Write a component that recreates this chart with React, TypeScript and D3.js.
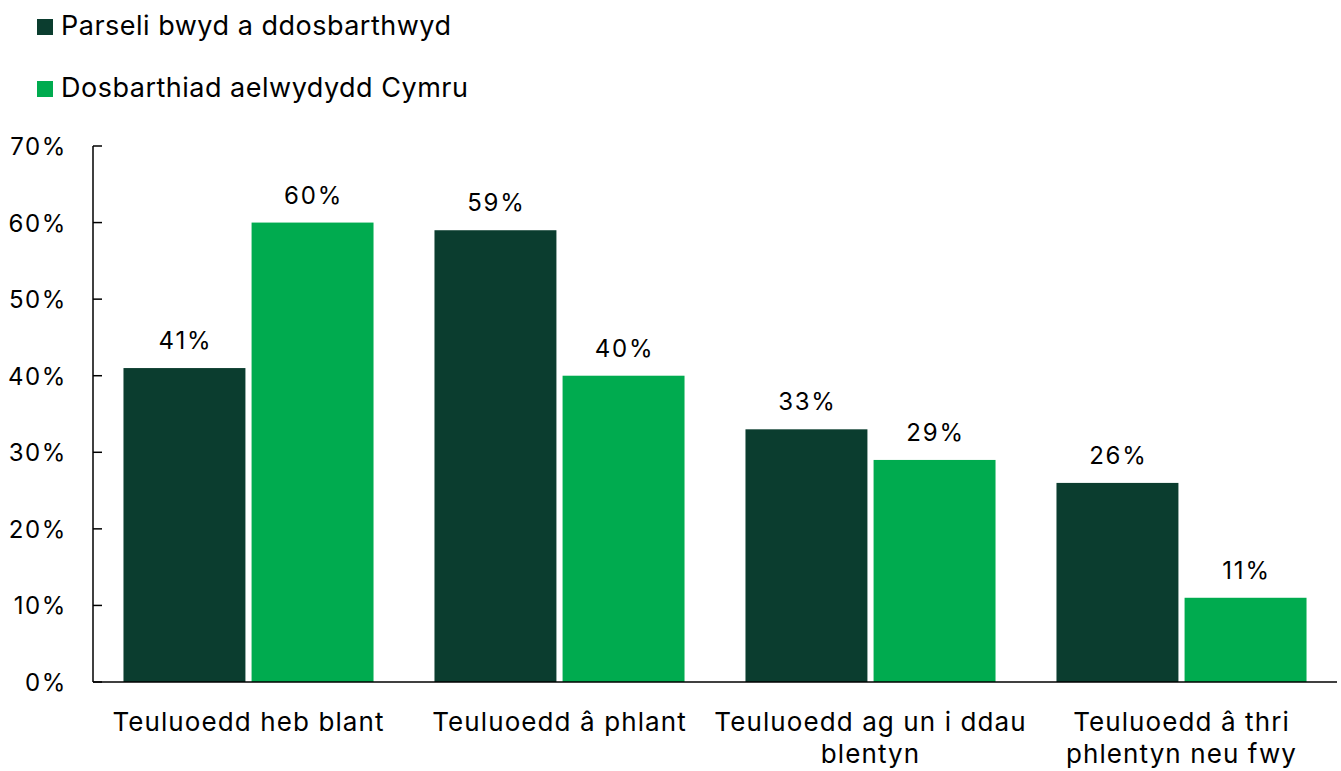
import { useEffect, useRef } from 'react';
import * as d3 from 'd3';

const categories = [
  ['Teuluoedd heb blant'],
  ['Teuluoedd â phlant'],
  ['Teuluoedd ag un i ddau', 'blentyn'],
  ['Teuluoedd â thri', 'phlentyn neu fwy'],
];
const seriesNames = ['Parseli bwyd a ddosbarthwyd', 'Dosbarthiad aelwydydd Cymru'];
const parcels = [41, 59, 33, 26];
const households = [60, 40, 29, 11];
const yTicks = [0, 10, 20, 30, 40, 50, 60, 70];
const colors = ['#0b3d2f', '#00ab4f'];

const App = () => {
  const ref = useRef<SVGSVGElement | null>(null);

  useEffect(() => {
    if (!ref.current) return;
    const svg = d3.select(ref.current);
    svg.selectAll('*').remove();

    const font = 'Inter, "Noto Sans", sans-serif';
    const left = 93, right = 1337, top = 146, bottom = 682;

    const x = d3.scaleBand<number>()
      .domain(d3.range(categories.length))
      .range([left, right])
      .paddingInner(0.196)
      .paddingOuter(0.098);
    const inner = d3.scaleBand<number>()
      .domain([0, 1])
      .range([0, x.bandwidth()])
      .paddingInner(0.048);
    const y = d3.scaleLinear().domain([0, 70]).range([bottom, top]);

    // legend
    seriesNames.forEach((name, i) => {
      const ly = 19 + i * 62;
      svg.append('rect').attr('x', 37).attr('y', ly).attr('width', 16).attr('height', 16).attr('fill', colors[i]);
      svg.append('text').attr('x', 61).attr('y', ly + 16)
        .style('font-family', font).style('font-size', '27px').style('letter-spacing', '0.5px')
        .attr('fill', '#000')
        .text(name);
    });

    // y axis
    svg.append('line').attr('x1', left).attr('x2', left).attr('y1', top).attr('y2', bottom)
      .attr('stroke', '#000').attr('stroke-width', 1.5);
    yTicks.forEach(t => {
      svg.append('line').attr('x1', left).attr('x2', left + 9).attr('y1', y(t)).attr('y2', y(t))
        .attr('stroke', '#000').attr('stroke-width', 1.5);
      svg.append('text').attr('x', 67).attr('y', y(t) + 9).attr('text-anchor', 'end')
        .style('font-family', font).style('font-size', '24px').style('letter-spacing', '1.6px')
        .attr('fill', '#000')
        .text(`${t}%`);
    });

    // bars
    [parcels, households].forEach((vals, s) => {
      vals.forEach((v, i) => {
        const bx = (x(i) || 0) + (inner(s) || 0);
        svg.append('rect').attr('x', bx).attr('y', y(v))
          .attr('width', inner.bandwidth()).attr('height', y(0) - y(v))
          .attr('fill', colors[s]);
        svg.append('text').attr('x', bx + inner.bandwidth() / 2 + 1).attr('y', y(v) - 19)
          .attr('text-anchor', 'middle')
          .style('font-family', font).style('font-size', '24px').style('letter-spacing', '1.8px')
          .attr('fill', '#000')
          .text(`${v}%`);
      });
    });

    // x axis
    svg.append('line').attr('x1', left).attr('x2', right).attr('y1', bottom).attr('y2', bottom)
      .attr('stroke', '#000').attr('stroke-width', 1.5);
    categories.forEach((lines, i) => {
      const t = svg.append('text').attr('text-anchor', 'middle')
        .style('font-family', font).style('font-size', '26px').style('letter-spacing', '1.1px')
        .attr('fill', '#000');
      lines.forEach((ln, j) => {
        t.append('tspan').attr('x', (x(i) || 0) + x.bandwidth() / 2).attr('y', 731 + j * 32).text(ln);
      });
    });
  }, []);

  return <svg ref={ref} width={1341} height={771} style={{ position: 'absolute', left: 0, top: 0 }} />;
};

export default App;
